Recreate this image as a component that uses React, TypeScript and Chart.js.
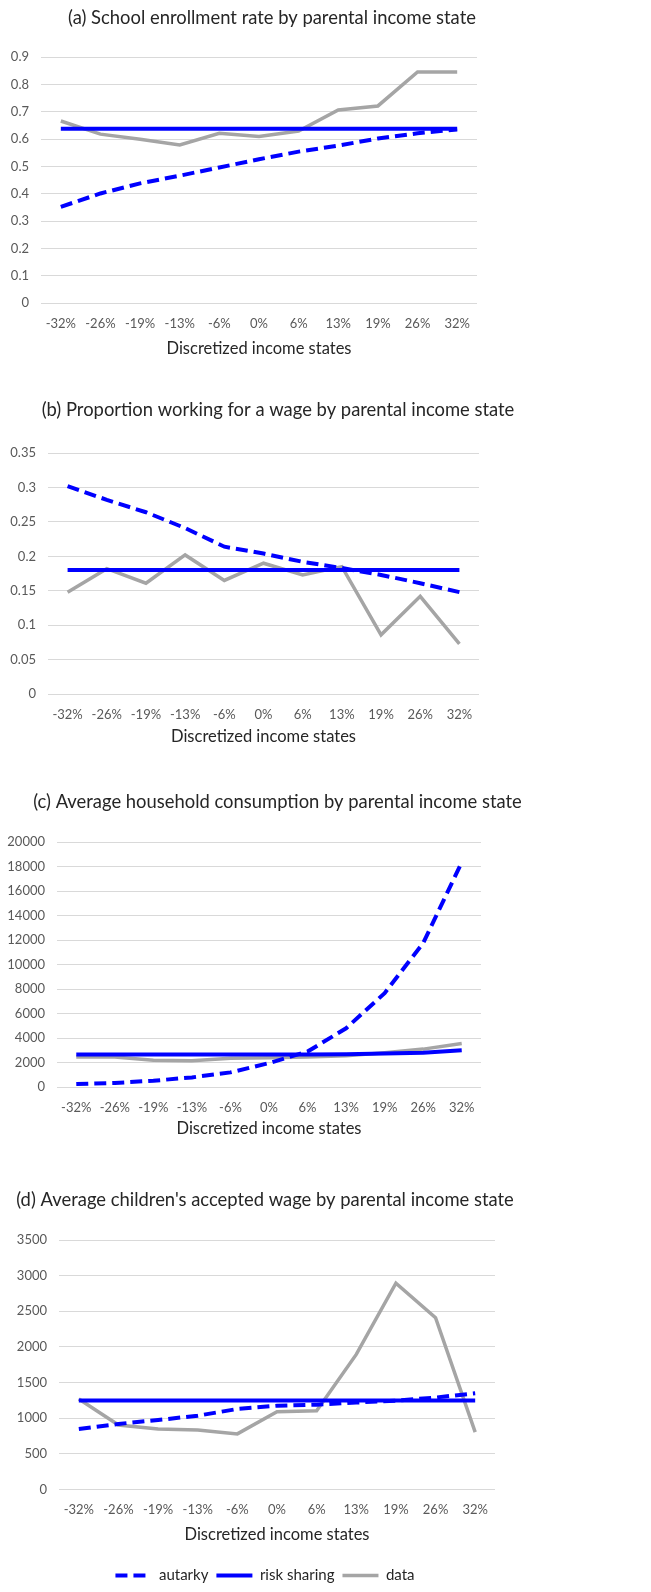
import React, { useEffect, useRef } from "react";
import { Chart, registerables } from "chart.js";

Chart.register(...registerables);

// Discretized parental income states (deviation from mean)
const incomeStates = ["-32%", "-26%", "-19%", "-13%", "-6%", "0%", "6%", "13%", "19%", "26%", "32%"];

// (a) School enrollment rate
const enrollAutarky = [0.352, 0.401, 0.438, 0.466, 0.496, 0.526, 0.554, 0.576, 0.602, 0.621, 0.635];
const enrollRiskSharing = [0.638, 0.638, 0.638, 0.638, 0.638, 0.638, 0.638, 0.638, 0.638, 0.638, 0.638];
const enrollData = [0.666, 0.618, 0.599, 0.578, 0.621, 0.609, 0.629, 0.706, 0.721, 0.845, 0.845];

// (b) Proportion working for a wage
const wageWorkAutarky = [0.302, 0.282, 0.264, 0.241, 0.214, 0.204, 0.192, 0.183, 0.173, 0.161, 0.148];
const wageWorkRiskSharing = [0.18, 0.18, 0.18, 0.18, 0.18, 0.18, 0.18, 0.18, 0.18, 0.18, 0.18];
const wageWorkData = [0.148, 0.182, 0.161, 0.202, 0.165, 0.19, 0.173, 0.185, 0.086, 0.142, 0.073];

// (c) Average household consumption
const consumptionAutarky = [250, 340, 520, 790, 1200, 1960, 2900, 4800, 7670, 11750, 18340];
const consumptionRiskSharing = [2650, 2650, 2650, 2650, 2650, 2650, 2650, 2680, 2750, 2800, 3000];
const consumptionData = [2450, 2450, 2200, 2150, 2350, 2400, 2450, 2550, 2800, 3100, 3550];

// (d) Average children's accepted wage
const acceptedWageAutarky = [850, 920, 975, 1035, 1130, 1175, 1190, 1220, 1245, 1290, 1350];
const acceptedWageRiskSharing = [1250, 1250, 1250, 1250, 1250, 1250, 1250, 1250, 1250, 1250, 1250];
const acceptedWageData = [1270, 905, 850, 835, 780, 1090, 1105, 1895, 2895, 2410, 805];

const seriesNames = ["autarky", "risk sharing", "data"];
const xAxisTitle = "Discretized income states";

const FONT = "Lato, 'Liberation Sans', sans-serif";
const BLUE = "#0000FF";
const GRAY = "#A5A5A5";
const TEXT_DARK = "#262626";
const TEXT_TICK = "#595959";

const TITLE_SIZE = 18.4;
const TICK_SIZE = 13;
const AXIS_TITLE_SIZE = 16.5;
const LEGEND_SIZE = 15;
const TICK_PAD = 13;

type PanelProps = {
  top: number; // canvas top on the page
  titleX: number; // horizontal centre of the chart title
  titleY: number; // vertical centre of the chart title
  plotTop: number;
  plotBottom: number;
  plotLeft: number;
  plotRight: number;
  axisTitleOffset: number; // distance from plot bottom to x-axis title centre
  titleText: string;
  yMax: number;
  yStep: number;
  autarky: number[];
  riskSharing: number[];
  data: number[];
  legendY?: number; // vertical centre of the legend, if shown
};

function Panel(p: PanelProps) {
  const ref = useRef<HTMLCanvasElement | null>(null);

  const width = Math.round(p.titleX * 2);
  const titleLH = TITLE_SIZE * 1.2;
  const tickLH = TICK_SIZE * 1.2;
  const axisLH = AXIS_TITLE_SIZE * 1.2;
  const titlePadTop = p.titleY - p.top - titleLH / 2;
  const titlePadBottom = p.plotTop - p.titleY - titleLH / 2;
  const axisPadTop = p.axisTitleOffset - 2 * TICK_PAD - tickLH - axisLH / 2;
  const legendPad = 8;
  const legendItemH = LEGEND_SIZE;
  const legendH = legendItemH + 2 * legendPad;
  let axisPadBottom = 2;
  let height = p.plotBottom - p.top + 2 * TICK_PAD + tickLH + axisPadTop + axisLH + axisPadBottom;
  if (p.legendY !== undefined) {
    const axisBottomNoGap = p.plotBottom + p.axisTitleOffset + axisLH / 2;
    const legendTop = p.legendY - legendH / 2;
    axisPadBottom = legendTop - axisBottomNoGap;
    height = legendTop + legendH - p.top;
  }
  height = Math.round(height);

  useEffect(() => {
    if (!ref.current) return;
    const chart = new Chart(ref.current, {
      type: "line",
      data: {
        labels: incomeStates,
        datasets: [
          {
            label: seriesNames[0],
            data: p.autarky,
            borderColor: BLUE,
            backgroundColor: BLUE,
            borderWidth: 4,
            borderDash: [12, 6],
            pointRadius: 0,
            tension: 0,
          },
          {
            label: seriesNames[1],
            data: p.riskSharing,
            borderColor: BLUE,
            backgroundColor: BLUE,
            borderWidth: 4,
            pointRadius: 0,
            tension: 0,
          },
          {
            label: seriesNames[2],
            data: p.data,
            borderColor: GRAY,
            backgroundColor: GRAY,
            borderWidth: 3.5,
            pointRadius: 0,
            tension: 0,
          },
        ],
      },
      options: {
        animation: false,
        responsive: false,
        maintainAspectRatio: false,
        layout: { padding: 0 },
        plugins: {
          title: {
            display: true,
            text: p.titleText,
            color: TEXT_DARK,
            font: { family: FONT, size: TITLE_SIZE, weight: "normal", lineHeight: 1.2 },
            padding: { top: titlePadTop, bottom: titlePadBottom },
          },
          legend: {
            display: p.legendY !== undefined,
            position: "bottom",
            labels: {
              usePointStyle: true,
              pointStyle: "line",
              pointStyleWidth: 36,
              color: TEXT_DARK,
              padding: legendPad,
              font: { family: FONT, size: LEGEND_SIZE, lineHeight: 1 },
              // line samples take the dash pattern and width of their series
              generateLabels: (c: any) =>
                c.data.datasets.map((ds: any, i: number) => ({
                  text: ds.label,
                  datasetIndex: i,
                  fillStyle: ds.borderColor,
                  strokeStyle: ds.borderColor,
                  fontColor: TEXT_DARK,
                  lineWidth: ds.borderWidth,
                  lineDash: ds.borderDash || [],
                  lineCap: "butt",
                  pointStyle: "line",
                  hidden: false,
                })),
            },
          },
          tooltip: { enabled: false },
        },
        scales: {
          x: {
            offset: true,
            grid: { display: false, drawTicks: false },
            border: { display: false },
            ticks: {
              color: TEXT_TICK,
              padding: TICK_PAD,
              maxRotation: 0,
              autoSkip: false,
              font: { family: FONT, size: TICK_SIZE, lineHeight: 1.2 },
            },
            title: {
              display: true,
              text: xAxisTitle,
              color: TEXT_DARK,
              padding: { top: axisPadTop, bottom: axisPadBottom },
              font: { family: FONT, size: AXIS_TITLE_SIZE, lineHeight: 1.2 },
            },
          },
          y: {
            min: 0,
            max: p.yMax,
            grid: { color: "#D9D9D9", lineWidth: 1, drawTicks: false },
            border: { display: false },
            ticks: {
              stepSize: p.yStep,
              color: TEXT_TICK,
              padding: 12,
              font: { family: FONT, size: TICK_SIZE },
              callback: (v: any) => String(Math.round(Number(v) * 1000) / 1000),
            },
            afterFit: (s: any) => {
              s.width = p.plotLeft;
            },
          },
          // empty spacer on the right so the title and legend centre on the whole canvas
          spacer: {
            type: "linear",
            position: "right",
            display: true,
            grid: { display: false, drawTicks: false },
            border: { display: false },
            ticks: { display: false },
            afterFit: (s: any) => {
              s.width = width - p.plotRight;
            },
          },
        },
      },
    });
    return () => chart.destroy();
  }, []);

  return (
    <canvas
      ref={ref}
      width={width}
      height={height}
      style={{ position: "absolute", left: 0, top: p.top, width, height }}
    />
  );
}

export default function App() {
  return (
    <div style={{ position: "absolute", left: 0, top: 0, width: 651, height: 1592, background: "#FFFFFF" }}>
      <Panel
        top={0}
        titleX={272}
        titleY={18}
        plotTop={57}
        plotBottom={303}
        plotLeft={41}
        plotRight={477}
        axisTitleOffset={46}
        titleText="(a) School enrollment rate by parental income state"
        yMax={0.9}
        yStep={0.1}
        autarky={enrollAutarky}
        riskSharing={enrollRiskSharing}
        data={enrollData}
      />
      <Panel
        top={370}
        titleX={278}
        titleY={410}
        plotTop={453}
        plotBottom={694}
        plotLeft={48}
        plotRight={479}
        axisTitleOffset={43}
        titleText="(b) Proportion working for a wage by parental income state"
        yMax={0.35}
        yStep={0.05}
        autarky={wageWorkAutarky}
        riskSharing={wageWorkRiskSharing}
        data={wageWorkData}
      />
      <Panel
        top={770}
        titleX={277.5}
        titleY={802}
        plotTop={842}
        plotBottom={1087}
        plotLeft={57}
        plotRight={481}
        axisTitleOffset={42}
        titleText="(c) Average household consumption by parental income state"
        yMax={20000}
        yStep={2000}
        autarky={consumptionAutarky}
        riskSharing={consumptionRiskSharing}
        data={consumptionData}
      />
      <Panel
        top={1140}
        titleX={265}
        titleY={1200}
        plotTop={1240}
        plotBottom={1491}
        plotLeft={59}
        plotRight={495}
        axisTitleOffset={45}
        titleText="(d) Average children's accepted wage by parental income state"
        yMax={3500}
        yStep={500}
        autarky={acceptedWageAutarky}
        riskSharing={acceptedWageRiskSharing}
        data={acceptedWageData}
        legendY={1577}
      />
    </div>
  );
}
